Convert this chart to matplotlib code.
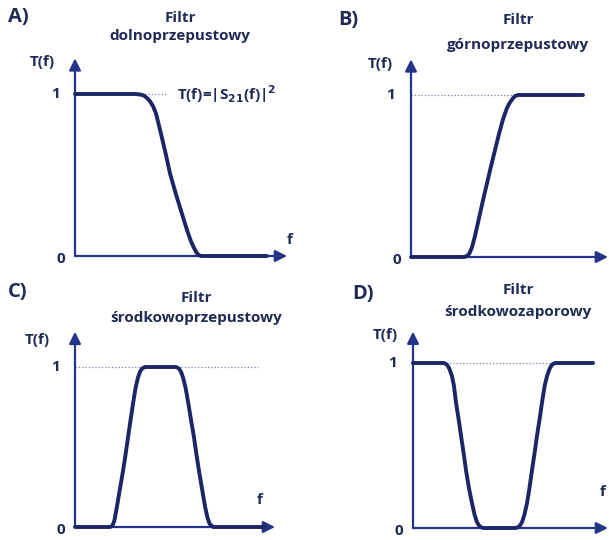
import matplotlib
matplotlib.use("Agg")
import matplotlib.pyplot as plt

# curve points (f in axis units, T from 0 to 1)
f_low = [0, 0.30, 0.325, 0.345, 0.36, 0.375, 0.39, 0.405, 0.425, 0.45, 0.475,
         0.505, 0.535, 0.56, 0.58, 0.595, 0.607, 0.618, 0.63, 0.96]
T_low = [1, 1, 0.997, 0.99, 0.975, 0.955, 0.925, 0.88, 0.78, 0.65, 0.51,
         0.38, 0.26, 0.16, 0.09, 0.05, 0.022, 0.006, 0, 0]

f_high = [0, 0.265, 0.28, 0.292, 0.305, 0.32, 0.34, 0.36, 0.38, 0.40, 0.42,
          0.44, 0.46, 0.48, 0.495, 0.51, 0.52, 0.535, 0.86]
T_high = [0, 0, 0.006, 0.022, 0.06, 0.13, 0.24, 0.35, 0.455, 0.56, 0.66,
          0.76, 0.85, 0.92, 0.955, 0.98, 0.993, 1, 1]

f_band = [0, 0.175, 0.187, 0.197, 0.21, 0.225, 0.24, 0.253, 0.265, 0.278, 0.29,
          0.303, 0.315, 0.325, 0.335, 0.35, 0.505, 0.52, 0.53, 0.54, 0.553, 0.567,
          0.58, 0.595, 0.607, 0.62, 0.635, 0.65, 0.662, 0.673, 0.69, 0.95]
T_band = [0, 0, 0.008, 0.04, 0.13, 0.24, 0.35, 0.455, 0.56, 0.67, 0.77,
          0.87, 0.935, 0.97, 0.99, 1, 1, 0.99, 0.97, 0.935, 0.87, 0.77,
          0.67, 0.56, 0.455, 0.35, 0.24, 0.13, 0.06, 0.02, 0, 0]

f_stop = [0, 0.155, 0.17, 0.182, 0.195, 0.205, 0.215, 0.228, 0.24, 0.253, 0.265,
          0.28, 0.295, 0.308, 0.32, 0.333, 0.35, 0.515, 0.532, 0.545, 0.557, 0.57,
          0.582, 0.595, 0.608, 0.62, 0.633, 0.645, 0.658, 0.67, 0.683, 0.695, 0.71, 0.90]
T_stop = [1, 1, 0.99, 0.965, 0.92, 0.86, 0.76, 0.66, 0.56, 0.455, 0.35,
          0.24, 0.15, 0.08, 0.035, 0.01, 0, 0, 0.01, 0.035, 0.08, 0.15,
          0.24, 0.35, 0.455, 0.56, 0.66, 0.76, 0.86, 0.92, 0.965, 0.99, 1, 1]

letters = ["A)", "B)", "C)", "D)"]
names = ["dolnoprzepustowy", "górnoprzepustowy", "środkowoprzepustowy", "środkowozaporowy"]
curves = [(f_low, T_low), (f_high, T_high), (f_band, T_band), (f_stop, T_stop)]

W, H = 609, 540
navy = "#1c2566"
axblue = "#25348a"
txt = "#1f2a55"
plt.rcParams["font.family"] = ["Open Sans", "DejaVu Sans"]
plt.rcParams["font.weight"] = "bold"

fig = plt.figure(figsize=(W / 100, H / 100), dpi=100)
fig.patch.set_facecolor("white")

# panel geometry: origin px, level-1 height px, arrow tips, dotted end, label spots
panels = [
    dict(ox=75, oy=256, h=162, xt=1.06, yt=1.22, dot=0.46, tf=(-0.165, 1.2), fl=(1.075, 0.10)),
    dict(ox=411, oy=257, h=162, xt=0.985, yt=1.22, dot=0.53, tf=(-0.155, 1.19), fl=None),
    dict(ox=75, oy=527, h=160, xt=1.0, yt=1.22, dot=0.915, tf=(-0.19, 1.17), fl=(0.925, 0.17)),
    dict(ox=413, oy=528, h=165, xt=0.975, yt=1.19, dot=0.90, tf=(-0.14, 1.17), fl=(0.95, 0.22)),
]
letter_pos = [(8, 17), (338, 20), (8, 292), (352, 294)]
title_pos = [(180, 18, 36), (518, 20, 45), (196, 298, 318), (518, 290, 312)]

for i, p in enumerate(panels):
    ax = fig.add_axes([p["ox"] / W, (H - p["oy"]) / H, 200 / W, p["h"] / H])
    ax.set_xlim(0, 1)
    ax.set_ylim(0, 1)
    ax.axis("off")

    # axes with arrows
    arr = dict(arrowstyle="-|>,head_length=0.7,head_width=0.35", color=axblue, lw=1.6,
               shrinkA=0, shrinkB=0)
    ax.annotate("", xy=(p["xt"], 0), xytext=(0, 0), arrowprops=arr, annotation_clip=False)
    ax.annotate("", xy=(0, p["yt"]), xytext=(0, 0), arrowprops=arr, annotation_clip=False)

    ax.plot([0, p["dot"]], [1, 1], ls=":", lw=0.9, color="#7d80a8", clip_on=False, zorder=1)
    f, T = curves[i]
    ax.plot(f, T, color=navy, lw=2.8, solid_capstyle="round", solid_joinstyle="round",
            clip_on=False, zorder=3)

    ax.text(-0.1, 1, "1", ha="center", va="center", fontsize=11, color=txt)
    ax.text(-0.07, -0.02, "0", ha="center", va="center", fontsize=11, color=txt)
    ax.text(p["tf"][0], p["tf"][1], "T(f)", ha="center", va="center", fontsize=11, color=txt)
    if p["fl"] is not None:
        ax.text(p["fl"][0], p["fl"][1], "f", ha="center", va="center", fontsize=11, color=txt)

    if i == 0:
        ax.text(0.51, 1.0, r"T(f)=|S$_{\mathbf{21}}$(f)|$^{\mathbf{2}}$", ha="left", va="center",
                fontsize=11, color=txt)

    lx, ly = letter_pos[i]
    fig.text(lx / W, 1 - ly / H, letters[i], ha="left", va="center", fontsize=14.5, color=txt)
    tx, ty1, ty2 = title_pos[i]
    fig.text(tx / W, 1 - ty1 / H, "Filtr", ha="center", va="center", fontsize=11, color=txt)
    fig.text(tx / W, 1 - ty2 / H, names[i], ha="center", va="center", fontsize=11, color=txt)

fig.savefig("out.png", dpi=100)
plt.close(fig)
